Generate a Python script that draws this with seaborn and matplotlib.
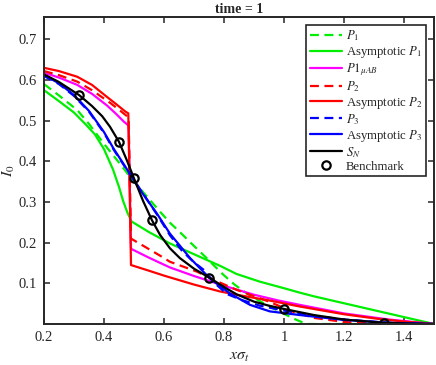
import matplotlib
matplotlib.use("Agg")
import matplotlib.pyplot as plt
import seaborn as sns

# ---------------- data ----------------
x_p1 = [0.2, 0.25, 0.311, 0.35, 0.4, 0.45, 0.487, 0.52, 0.553, 0.587, 0.62, 0.653, 0.69, 0.731, 0.765, 0.798, 0.835, 0.876, 0.92, 0.96, 1.0, 1.042, 1.075, 1.5]
y_p1 = [0.590, 0.562, 0.526, 0.492, 0.443, 0.397, 0.362, 0.333, 0.305, 0.276, 0.249, 0.226, 0.199, 0.170, 0.145, 0.121, 0.097, 0.075, 0.056, 0.040, 0.025, 0.010, 0.0, 0.0]

x_ap1 = [0.2, 0.25, 0.3, 0.34, 0.37, 0.4, 0.43, 0.45, 0.464, 0.478, 0.492, 0.55, 0.62, 0.72, 0.787, 0.842, 0.92, 1.0, 1.053, 1.1, 1.2, 1.3, 1.4, 1.5]
y_ap1 = [0.575, 0.548, 0.520, 0.490, 0.466, 0.430, 0.380, 0.337, 0.302, 0.274, 0.252, 0.226, 0.198, 0.165, 0.143, 0.123, 0.104, 0.088, 0.077, 0.068, 0.051, 0.034, 0.017, 0.0]

x_mu = [0.2, 0.25, 0.311, 0.36, 0.409, 0.44, 0.467, 0.482, 0.49, 0.498, 0.55, 0.62, 0.7, 0.809, 0.9, 0.98, 1.053, 1.2, 1.35, 1.5]
y_mu = [0.618, 0.606, 0.588, 0.566, 0.538, 0.517, 0.497, 0.488, 0.185, 0.182, 0.163, 0.139, 0.118, 0.092, 0.072, 0.058, 0.047, 0.026, 0.011, 0.0]

x_p2 = [0.2, 0.25, 0.311, 0.36, 0.422, 0.455, 0.482, 0.49, 0.497, 0.587, 0.62, 0.709, 0.78, 0.842, 0.95, 1.03, 1.1, 1.2, 1.3, 1.5]
y_p2 = [0.622, 0.612, 0.596, 0.575, 0.543, 0.524, 0.508, 0.210, 0.207, 0.168, 0.153, 0.129, 0.104, 0.084, 0.055, 0.030, 0.015, 0.005, 0.001, 0.0]

x_ap2 = [0.2, 0.25, 0.311, 0.36, 0.409, 0.44, 0.472, 0.481, 0.49, 0.55, 0.6, 0.7, 0.787, 0.842, 0.95, 1.053, 1.2, 1.32, 1.4, 1.5]
y_ap2 = [0.630, 0.622, 0.608, 0.588, 0.559, 0.541, 0.522, 0.518, 0.145, 0.131, 0.119, 0.097, 0.080, 0.072, 0.058, 0.043, 0.024, 0.012, 0.006, 0.0]

x_p3 = [0.2, 0.25, 0.3, 0.35, 0.4, 0.433, 0.464, 0.52, 0.576, 0.62, 0.66, 0.698, 0.731, 0.77, 0.809, 0.859, 0.92, 1.0, 1.1, 1.2, 1.35, 1.5]
y_p3 = [0.610, 0.590, 0.561, 0.522, 0.470, 0.428, 0.393, 0.332, 0.270, 0.218, 0.180, 0.153, 0.134, 0.100, 0.074, 0.059, 0.045, 0.033, 0.020, 0.011, 0.003, 0.0]

x_ap3 = [0.2, 0.25, 0.3, 0.35, 0.4, 0.433, 0.464, 0.52, 0.576, 0.62, 0.687, 0.753, 0.82, 0.887, 0.953, 1.053, 1.2, 1.35, 1.5]
y_ap3 = [0.612, 0.592, 0.563, 0.524, 0.472, 0.430, 0.395, 0.330, 0.272, 0.222, 0.162, 0.112, 0.075, 0.047, 0.031, 0.022, 0.010, 0.003, 0.0]

x_sn = [0.2, 0.25, 0.317, 0.36, 0.394, 0.42, 0.45, 0.476, 0.5, 0.53, 0.56, 0.587, 0.62, 0.653, 0.7, 0.751, 0.8, 0.842, 0.9, 0.95, 1.0, 1.1, 1.2, 1.333, 1.42, 1.5]
y_sn = [0.614, 0.595, 0.563, 0.536, 0.511, 0.485, 0.448, 0.403, 0.358, 0.303, 0.255, 0.219, 0.186, 0.162, 0.136, 0.114, 0.091, 0.073, 0.055, 0.045, 0.037, 0.022, 0.011, 0.003, 0.001, 0.0]

x_bench = [0.317, 0.45, 0.5, 0.56, 0.75, 1.0, 1.333]
y_bench = [0.563, 0.448, 0.358, 0.255, 0.114, 0.037, 0.002]

labels = ["$P_1$", "Asymptotic $P_1$", r"$P1_{\mu AB}$", "$P_2$", "Asymptotic $P_2$",
          "$P_3$", "Asymptotic $P_3$", "$S_N$", "Benchmark"]
xticks = [0.2, 0.4, 0.6, 0.8, 1.0, 1.2, 1.4]
xticklabels = ["0.2", "0.4", "0.6", "0.8", "1", "1.2", "1.4"]
yticks = [0.1, 0.2, 0.3, 0.4, 0.5, 0.6, 0.7]

# ---------------- style ----------------
sns.set_style("ticks")
plt.rcParams["font.family"] = ["Liberation Serif", "DejaVu Serif"]
plt.rcParams["mathtext.fontset"] = "stix"

fig = plt.figure(figsize=(4.36, 3.65), dpi=100)
ax = fig.add_axes([44 / 436, 41 / 365, 390 / 436, 307 / 365])

lw = 1.6
series = [
    (x_p1, y_p1, "#00ee00", "--"),
    (x_ap1, y_ap1, "#00ee00", "-"),
    (x_mu, y_mu, "#ff00ff", "-"),
    (x_p2, y_p2, "#ff0000", "--"),
    (x_ap2, y_ap2, "#ff0000", "-"),
    (x_p3, y_p3, "#0000ff", "--"),
    (x_ap3, y_ap3, "#0000ff", "-"),
    (x_sn, y_sn, "#000000", "-"),
]
for (xs, ys, c, ls), lab in zip(series, labels[:-1]):
    sns.lineplot(x=xs, y=ys, sort=False, estimator=None, color=c, linestyle=ls,
                 linewidth=lw, label=lab, ax=ax)
    line = ax.lines[-1]
    line.set_solid_joinstyle("round")
    if ls == "--":
        line.set_dashes([4, 2.5])

sns.lineplot(x=x_bench, y=y_bench, sort=False, estimator=None, linestyle="none",
             marker="o", markersize=6, mfc="none", mec="black", mew=1.6,
             color="black", label=labels[-1], ax=ax)

ax.set_xlim(0.2, 1.5)
ax.set_ylim(0.0, 0.755)
ax.set_xticks(xticks)
ax.set_xticklabels(xticklabels)
ax.set_yticks(yticks)
ax.tick_params(direction="in", top=True, right=True, length=4, width=1.1,
               labelsize=10.5, colors="#262626", pad=5)
for sp in ax.spines.values():
    sp.set_linewidth(1.4)
    sp.set_color("#262626")
    sp.set_visible(True)

ax.set_xlabel(r"$x\sigma_t$", fontsize=11.5, labelpad=3, color="#262626")
ax.set_ylabel(r"$I_0$", fontsize=11.5, color="#262626")
ax.yaxis.set_label_coords(-0.068, 0.5)
ax.set_title("time = 1", fontsize=10, fontweight="bold", pad=3)

leg = ax.legend(loc="upper right", fontsize=9.2, frameon=True, fancybox=False,
                edgecolor="#262626", framealpha=1, handlelength=2.5,
                labelspacing=0.08, borderpad=0.3, handletextpad=0.3,
                borderaxespad=0.6)
leg.get_frame().set_linewidth(1.2)

fig.savefig("out.png", dpi=100)
